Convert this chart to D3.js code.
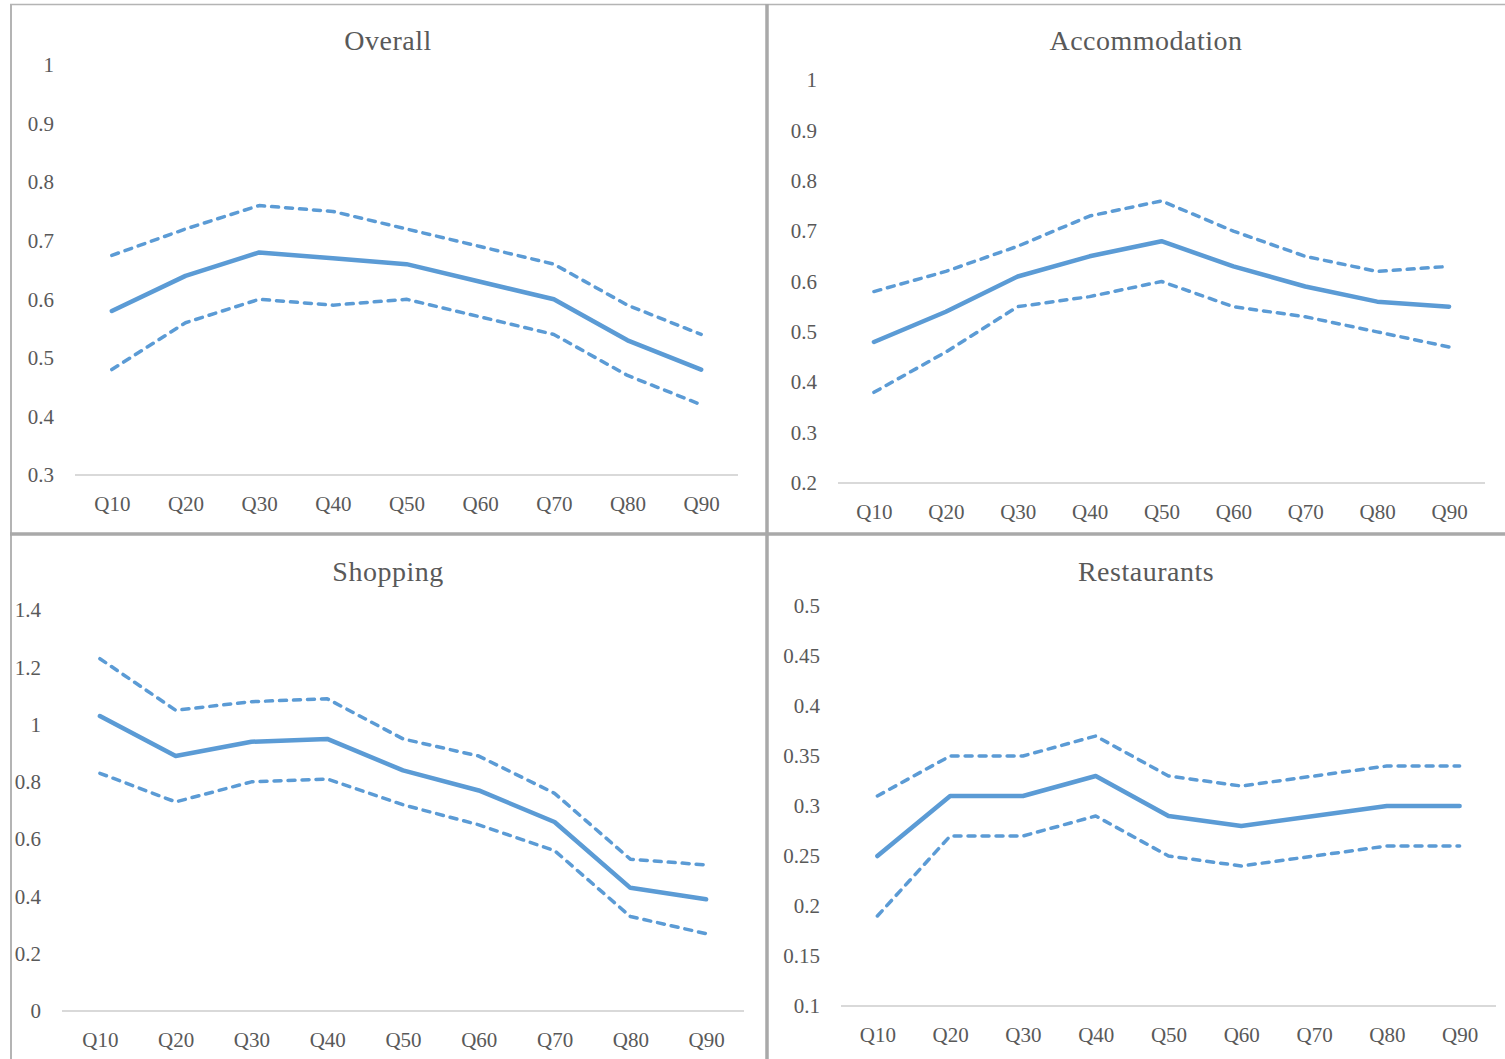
<!DOCTYPE html>
<html lang="en">
  <head>
    <meta charset="UTF-8" />
    <title>Quantile estimates</title>
    <script src="https://d3js.org/d3.v7.min.js"></script>
    <style>
      body { margin: 0; background: #fff; }
      text { font-family: "Liberation Serif", "DejaVu Serif", serif; fill: #595959; }
    </style>
  </head>
  <body>
    <svg width="1505" height="1059" id="chart"></svg>

    <script>
      // Data
      const quantiles = ["Q10", "Q20", "Q30", "Q40", "Q50", "Q60", "Q70", "Q80", "Q90"];

      const overallEst = [0.58, 0.64, 0.68, 0.67, 0.66, 0.63, 0.60, 0.53, 0.48];
      const overallHi = [0.675, 0.72, 0.76, 0.75, 0.72, 0.69, 0.66, 0.59, 0.54];
      const overallLo = [0.48, 0.56, 0.60, 0.59, 0.60, 0.57, 0.54, 0.47, 0.42];
      const overallTicks = [0.3, 0.4, 0.5, 0.6, 0.7, 0.8, 0.9, 1];

      const accomEst = [0.48, 0.54, 0.61, 0.65, 0.68, 0.63, 0.59, 0.56, 0.55];
      const accomHi = [0.58, 0.62, 0.67, 0.73, 0.76, 0.70, 0.65, 0.62, 0.63];
      const accomLo = [0.38, 0.46, 0.55, 0.57, 0.60, 0.55, 0.53, 0.50, 0.47];
      const accomTicks = [0.2, 0.3, 0.4, 0.5, 0.6, 0.7, 0.8, 0.9, 1];

      const shopEst = [1.03, 0.89, 0.94, 0.95, 0.84, 0.77, 0.66, 0.43, 0.39];
      const shopHi = [1.23, 1.05, 1.08, 1.09, 0.95, 0.89, 0.76, 0.53, 0.51];
      const shopLo = [0.83, 0.73, 0.80, 0.81, 0.72, 0.65, 0.56, 0.33, 0.27];
      const shopTicks = [0, 0.2, 0.4, 0.6, 0.8, 1, 1.2, 1.4];

      const restEst = [0.25, 0.31, 0.31, 0.33, 0.29, 0.28, 0.29, 0.30, 0.30];
      const restHi = [0.31, 0.35, 0.35, 0.37, 0.33, 0.32, 0.33, 0.34, 0.34];
      const restLo = [0.19, 0.27, 0.27, 0.29, 0.25, 0.24, 0.25, 0.26, 0.26];
      const restTicks = [0.1, 0.15, 0.2, 0.25, 0.3, 0.35, 0.4, 0.45, 0.5];

      // panel layout (pixel boxes of each plot area)
      const panels = [
        { title: "Overall", est: overallEst, hi: overallHi, lo: overallLo, ticks: overallTicks,
          x0: 75, x1: 738, yTop: 65, yBot: 475, titleX: 388, titleY: 50, labelX: 54, xLabY: 511 },
        { title: "Accommodation", est: accomEst, hi: accomHi, lo: accomLo, ticks: accomTicks,
          x0: 838, x1: 1485, yTop: 80, yBot: 483, titleX: 1146, titleY: 50, labelX: 817, xLabY: 519 },
        { title: "Shopping", est: shopEst, hi: shopHi, lo: shopLo, ticks: shopTicks,
          x0: 62, x1: 744, yTop: 610, yBot: 1011, titleX: 388, titleY: 581, labelX: 41, xLabY: 1047 },
        { title: "Restaurants", est: restEst, hi: restHi, lo: restLo, ticks: restTicks,
          x0: 841, x1: 1496, yTop: 606, yBot: 1006, titleX: 1146, titleY: 581, labelX: 820, xLabY: 1042 }
      ];

      const svg = d3.select("#chart");
      const blue = "#5B9BD5";

      // panel frames
      svg.append("line").attr("x1", 11).attr("x2", 11).attr("y1", 4).attr("y2", 1059)
        .attr("stroke", "#b4b4b4").attr("stroke-width", 2);
      svg.append("line").attr("x1", 10).attr("x2", 1505).attr("y1", 4.5).attr("y2", 4.5)
        .attr("stroke", "#b4b4b4").attr("stroke-width", 1.5);
      svg.append("line").attr("x1", 767).attr("x2", 767).attr("y1", 4).attr("y2", 1059)
        .attr("stroke", "#a9a9a9").attr("stroke-width", 3.5);
      svg.append("line").attr("x1", 10).attr("x2", 1505).attr("y1", 534).attr("y2", 534)
        .attr("stroke", "#a9a9a9").attr("stroke-width", 3.5);

      panels.forEach((p) => {
        const g = svg.append("g");
        const x = d3.scalePoint().domain(quantiles).range([p.x0, p.x1]).padding(0.5);
        const y = d3.scaleLinear()
          .domain([d3.min(p.ticks), d3.max(p.ticks)])
          .range([p.yBot, p.yTop]);

        // title
        g.append("text")
          .attr("x", p.titleX).attr("y", p.titleY)
          .attr("text-anchor", "middle")
          .style("font-size", "28px")
          .style("letter-spacing", "0.5px")
          .text(p.title);

        // y axis labels only
        const ya = g.append("g")
          .attr("transform", "translate(" + (p.labelX) + ",0)")
          .call(d3.axisLeft(y).tickValues(p.ticks).tickSize(0).tickPadding(0).tickFormat(d3.format("~g")));
        ya.select(".domain").remove();
        ya.selectAll("text").style("font-size", "21px").attr("fill", "#595959")
          .style("font-family", "'Liberation Serif', serif");

        // x axis base line
        g.append("line")
          .attr("x1", p.x0).attr("x2", p.x1)
          .attr("y1", p.yBot).attr("y2", p.yBot)
          .attr("stroke", "#d9d9d9").attr("stroke-width", 2);

        const xa = g.append("g")
          .attr("transform", "translate(0," + p.yBot + ")")
          .call(d3.axisBottom(x).tickSize(0).tickPadding(0));
        xa.select(".domain").remove();
        xa.selectAll("text")
          .attr("y", p.xLabY - p.yBot).attr("dy", 0)
          .style("font-size", "21px").attr("fill", "#595959")
          .style("font-family", "'Liberation Serif', serif");

        const line = d3.line()
          .x((d, i) => x(quantiles[i]))
          .y((d) => y(d));

        [p.hi, p.lo].forEach((s) => {
          g.append("path")
            .datum(s)
            .attr("d", line)
            .attr("fill", "none")
            .attr("stroke", blue)
            .attr("stroke-width", 3.5)
            .attr("stroke-linecap", "round")
            .attr("stroke-linejoin", "round")
            .attr("stroke-dasharray", "7,7");
        });

        g.append("path")
          .datum(p.est)
          .attr("d", line)
          .attr("fill", "none")
          .attr("stroke", blue)
          .attr("stroke-width", 4.5)
          .attr("stroke-linecap", "round")
          .attr("stroke-linejoin", "round");
      });
    </script>
  </body>
</html>
